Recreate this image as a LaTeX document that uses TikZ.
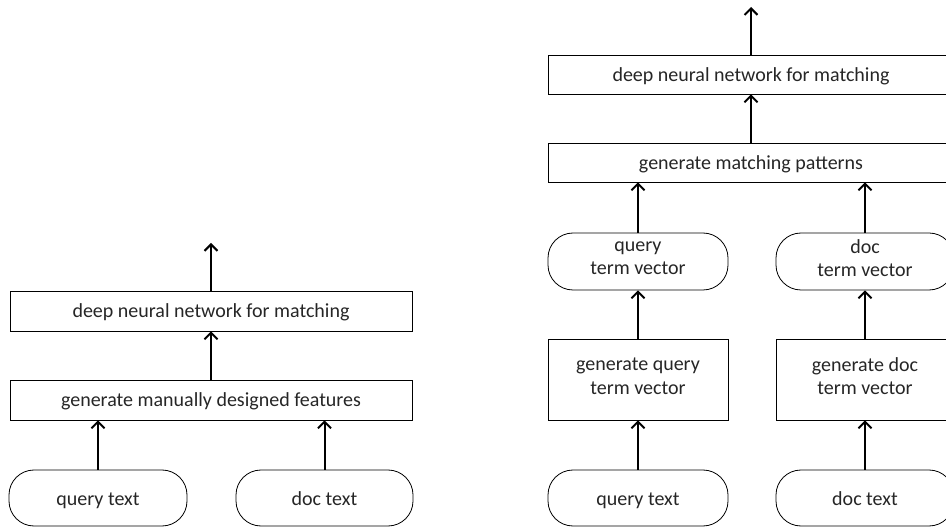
\documentclass[tikz,border=0pt]{standalone}
\usepackage{fontspec}
\setmainfont{Carlito}
\usetikzlibrary{arrows.meta}
\begin{document}
\begin{tikzpicture}[x=1pt,y=-1pt,
  box/.style={draw, line width=0.8pt, minimum height=40pt, inner sep=0pt, align=center,
    text=black!85, font=\fontsize{20}{23.5}\selectfont,
    execute at begin node=\rule{0pt}{21pt}, execute at end node=\rule[-7pt]{0pt}{7pt}},
  pill/.style={box, rounded corners=25pt, minimum height=56pt},
  flow/.style={line width=2pt, -{Straight Barb[length=6.5pt,width=13pt]}}]
\useasboundingbox (0,0) rectangle (946,529);

% left diagram
\node[box, minimum width=402pt] (dnnA) at (211,311) {deep neural network for matching};
\node[box, minimum width=402pt] (featA) at (211,400) {generate manually designed features};
\node[pill, minimum width=178pt] (qA) at (98,498) {query text};
\node[pill, minimum width=177pt] (dA) at (324.5,498) {doc text};
\coordinate (outA) at (211,243);
\draw[flow] (qA.north) -- (qA.north |- featA.south);
\draw[flow] (dA.north) -- (dA.north |- featA.south);
\draw[flow] (featA.north) -- (dnnA.south);
\draw[flow] (dnnA.north) -- (outA);

% right diagram
\node[box, minimum width=406pt, minimum height=39pt] (dnnB) at (751,74.5) {deep neural network for matching};
\node[box, minimum width=406pt, minimum height=39pt] (patB) at (751,162.5) {generate matching patterns};
\node[pill, minimum width=180pt, minimum height=57pt] (qvB) at (638,261.5) {query\\term vector};
\node[pill, minimum width=178pt, minimum height=57pt] (dvB) at (865,261.5) {doc\\term vector};
\node[box, minimum width=180pt, minimum height=81pt] (gqB) at (638,379.5) {generate query\\term vector};
\node[box, minimum width=178pt, minimum height=81pt] (gdB) at (865,379.5) {generate doc\\term vector};
\node[pill, minimum width=180pt] (qB) at (638,498) {query text};
\node[pill, minimum width=178pt] (dB) at (865,498) {doc text};
\coordinate (outB) at (751,7);
\draw[flow] (qB.north) -- (gqB.south);
\draw[flow] (dB.north) -- (gdB.south);
\draw[flow] (gqB.north) -- (qvB.south);
\draw[flow] (gdB.north) -- (dvB.south);
\draw[flow] (qvB.north) -- (qvB.north |- patB.south);
\draw[flow] (dvB.north) -- (dvB.north |- patB.south);
\draw[flow] (patB.north) -- (dnnB.south);
\draw[flow] (dnnB.north) -- (outB);
\end{tikzpicture}
\end{document}
